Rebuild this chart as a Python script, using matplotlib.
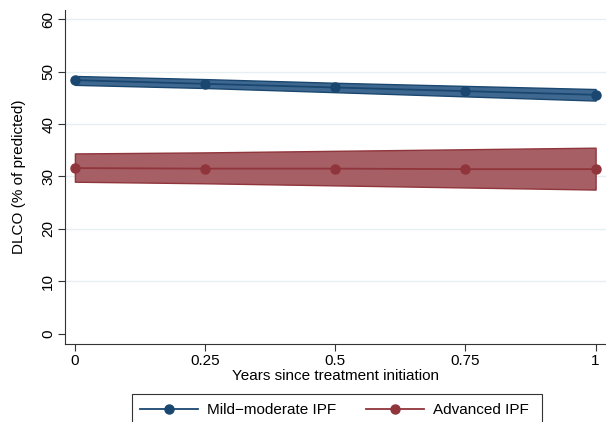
import matplotlib.pyplot as plt
from matplotlib.patches import Rectangle
import numpy as np

plt.rcParams['font.family'] = ['Liberation Sans', 'DejaVu Sans']

years = [0, 0.25, 0.5, 0.75, 1]
mild = [48.4, 47.7, 47.0, 46.3, 45.6]
mild_lo = [47.5, 46.9, 46.1, 45.3, 44.5]
mild_hi = [49.2, 48.6, 47.9, 47.3, 46.7]
adv = [31.6, 31.5, 31.5, 31.4, 31.4]
adv_lo = [29.0, 28.7, 28.3, 27.9, 27.5]
adv_hi = [34.4, 34.6, 34.9, 35.2, 35.5]

yticks = [0, 10, 20, 30, 40, 50, 60]
xticks = [0, 0.25, 0.5, 0.75, 1]
xlabels = ["0", "0.25", "0.5", "0.75", "1"]

navy = "#1a476f"
maroon = "#90353b"
fs = 11

fig = plt.figure(figsize=(6.06, 4.22), dpi=100)
ax = fig.add_axes([65/606, 78/422, 1 - 65/606, 334/422])

for v in yticks[1:]:
    ax.axhline(v, color="#e6eff2", lw=1.0, zorder=0)

ax.fill_between(years, adv_lo, adv_hi, color="#a65f65", edgecolor=maroon, lw=1.0, zorder=2)
ax.plot(years, adv, color=maroon, lw=1.3, marker="o", ms=6.5, zorder=3, label="Advanced IPF")
ax.fill_between(years, mild_lo, mild_hi, color="#3f6890", edgecolor=navy, lw=1.0, zorder=2)
ax.plot(years, mild, color=navy, lw=1.3, marker="o", ms=6.5, zorder=3, label="Mild\u2212moderate IPF")

ax.set_xlim(-0.019, 1.02)
ax.set_ylim(-2.0, 61.8)
ax.set_yticks(yticks)
ax.set_yticklabels([str(v) for v in yticks], rotation=90, va="center")
ax.set_xticks(xticks)
ax.set_xticklabels(xlabels)
ax.tick_params(labelsize=fs, length=5, width=0.8, color="#333333", pad=2)
ax.spines['top'].set_visible(False)
ax.spines['right'].set_visible(False)
ax.spines['left'].set_color("#333333")
ax.spines['bottom'].set_color("#333333")
ax.set_xlabel("Years since treatment initiation", fontsize=fs, labelpad=1)
ax.set_ylabel("DLCO (% of predicted)", fontsize=fs, labelpad=11)

# legend box (Stata style, runs off the bottom edge)
fig.patches.append(Rectangle((132/606, -0.05), 410/606, 0.05 + 28/422, transform=fig.transFigure,
                             fill=False, edgecolor="#333333", lw=0.8))

h, l = ax.get_legend_handles_labels()
leg = fig.legend(h[::-1], l[::-1], loc="upper left", bbox_to_anchor=(137/606, 1 - 400/422),
                 ncol=2, frameon=False, fontsize=fs, handlelength=3.8,
                 handletextpad=0.6, columnspacing=1.95, borderpad=0.2, borderaxespad=0)

fig.savefig("out.png", dpi=100)
